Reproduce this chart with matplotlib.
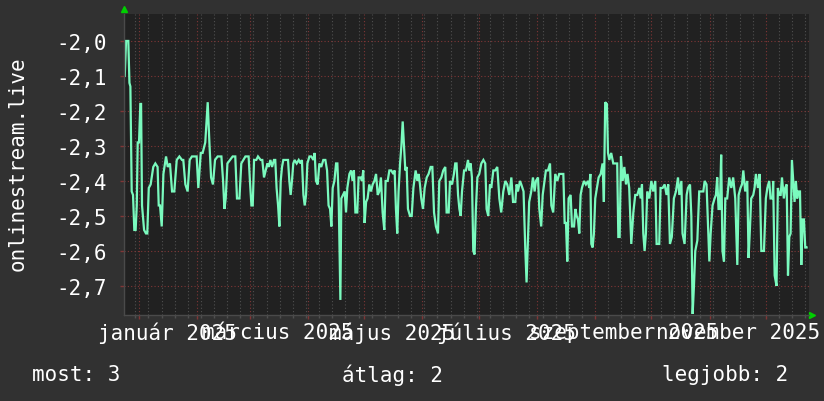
import matplotlib
matplotlib.use("Agg")
import matplotlib.pyplot as plt
import numpy as np
from matplotlib.ticker import FixedLocator, FuncFormatter

# day offsets from 2025-01-01 and the measured values
days = [
    -7.6, -6.9, -5.7, -5.1, -4.6, -3.9, -3.2, -2.5, -1.8, -1.2, -0.7, 0.0, 0.7, 1.1, 1.6, 2.7,
    3.7, 4.4, 5.2, 6.2, 7.6, 8.7, 9.9, 10.5, 11.2, 12.1, 13.0, 14.4, 15.3, 16.5, 17.6, 18.8,
    20.1, 21.5, 22.9, 23.6, 24.7, 25.9, 27.0, 28.2, 29.8, 30.7, 31.6, 32.9, 33.9, 35.3, 36.6,
    37.5, 38.4, 39.4, 40.5, 41.9,
    43.9, 44.8, 45.5, 46.2, 47.1, 48.5, 49.9, 51.3, 52.2, 53.5, 54.5, 55.6, 56.7, 58.4, 59.1,
    59.9, 60.6, 61.3, 62.5, 63.4, 64.8, 65.7, 66.6, 67.5, 68.4, 69.1, 70.0, 70.9, 71.9, 72.6,
    73.3, 74.1, 74.8, 75.5, 76.2, 76.9, 78.3, 79.4, 80.1, 80.8, 81.5, 82.2, 82.9, 84.0, 85.1,
    86.1, 86.8, 87.6, 88.3, 89.0, 89.7, 90.8, 91.8, 92.9, 93.6,
    94.3, 95.2, 96.1, 97.1, 98.2, 99.3, 100.2, 101.0, 101.8, 102.5, 103.2, 104.1, 105.0, 105.7,
    106.4, 107.3, 107.8, 108.7, 109.6, 110.3, 111.0, 112.1, 113.0, 113.8, 114.5, 115.3, 116.3,
    117.0, 118.1, 118.8, 119.5, 120.2, 121.0, 121.8, 122.7, 123.6, 124.5, 125.4, 126.3, 127.2,
    128.0, 128.9, 129.8, 130.7, 131.4, 132.5, 133.4, 134.4, 135.5, 136.2, 136.9, 137.6, 138.3,
    139.1, 139.8, 140.5, 141.2, 141.9, 142.6, 143.3, 144.4, 145.3, 146.2,
    147.4, 148.3, 149.0, 149.7, 150.4, 151.3, 152.2, 153.3, 154.3, 155.4, 156.3, 157.2, 158.2,
    159.3, 160.0, 161.1, 162.1, 163.2, 163.9, 165.0, 165.7, 166.8, 167.8, 168.5, 169.2, 170.0,
    170.7, 171.4, 172.1, 173.2, 174.2, 175.3, 176.0, 176.7, 177.4, 178.1, 178.8, 179.5, 180.3,
    181.3, 182.4, 183.5, 184.5, 185.2, 186.1, 187.0, 187.7, 188.8, 189.8, 190.9, 192.0, 193.0,
    194.1, 195.2, 196.2, 197.3, 198.4,
    199.3, 200.5, 201.2, 201.9, 203.0, 203.7, 204.9, 205.8, 206.5, 207.2, 207.9, 209.0, 209.9,
    210.8, 211.5, 212.6, 213.3, 214.3, 215.1, 216.1, 216.8, 217.9, 219.0, 219.7, 220.7, 221.8,
    222.9, 223.9, 225.0, 226.1, 226.8, 227.5, 228.2, 228.9, 230.0, 230.7, 231.8, 232.5, 233.2,
    233.9, 234.6, 235.3, 236.0, 237.1, 238.1, 239.2, 239.9, 240.5, 241.0, 241.7, 242.4, 243.1,
    244.0, 244.9, 246.0, 247.0, 247.7, 248.4, 249.3, 249.9, 250.6,
    251.6, 252.7, 253.8, 254.8, 255.4, 256.1, 256.8, 257.7, 258.6, 259.5, 260.3, 261.2, 262.3,
    263.4, 264.4, 265.5, 266.6, 267.3, 268.0, 268.7, 269.4, 270.1, 270.8, 271.9, 273.0, 274.0,
    275.1, 275.8, 277.2, 277.9, 279.0, 280.1, 281.1, 282.0, 282.9, 283.9, 285.0, 286.1, 287.2,
    287.9, 289.0, 289.6, 290.7, 291.8, 292.5, 293.6, 294.3, 295.0, 295.7, 296.4, 297.5, 298.5,
    299.6, 300.7, 301.4, 302.4,
    303.9, 304.6, 305.6, 306.7, 307.4, 308.1, 308.8, 309.5, 310.2, 310.9, 311.7, 312.4, 313.4,
    314.5, 315.6, 316.6, 317.7, 318.8, 319.5, 320.5, 321.3, 322.0, 323.0, 324.1, 324.8, 325.5,
    326.2, 327.3, 328.0, 328.7, 329.8, 330.7, 331.6, 333.0, 334.0, 334.8, 335.8, 336.5, 337.6,
    337.9, 338.7, 339.7, 340.4, 341.1, 341.9, 342.6, 343.6, 344.3, 345.1, 345.8, 346.5, 347.2,
    347.9, 348.6, 349.3, 350.0, 350.7, 351.4, 352.2, 352.9, 353.6, 354.3, 355.0, 355.7,
]
values = [
    -2.10, -2.00, -2.00, -2.12, -2.13, -2.43, -2.44, -2.54, -2.54, -2.47, -2.29, -2.29, -2.18, -2.18, -2.47, -2.54,
    -2.55, -2.55, -2.42, -2.41, -2.36, -2.35, -2.36, -2.47, -2.47, -2.53, -2.38, -2.33, -2.36, -2.35, -2.43, -2.43,
    -2.34, -2.33, -2.34, -2.34, -2.41, -2.43, -2.34, -2.33, -2.33, -2.33, -2.42, -2.32, -2.32, -2.29, -2.175,
    -2.29, -2.39, -2.41, -2.34, -2.33,
    -2.33, -2.40, -2.48, -2.45, -2.35, -2.34, -2.33, -2.33, -2.45, -2.45, -2.35, -2.34, -2.33, -2.33, -2.40,
    -2.47, -2.47, -2.34, -2.34, -2.33, -2.34, -2.34, -2.39, -2.37, -2.35, -2.36, -2.34, -2.36, -2.34, -2.34,
    -2.42, -2.47, -2.53, -2.40, -2.36, -2.34, -2.34, -2.34, -2.40, -2.44, -2.40, -2.35, -2.34, -2.35, -2.34,
    -2.35, -2.34, -2.44, -2.47, -2.44, -2.35, -2.33, -2.33, -2.34, -2.32,
    -2.40, -2.41, -2.35, -2.36, -2.34, -2.34, -2.37, -2.47, -2.48, -2.53, -2.42, -2.40, -2.35, -2.35,
    -2.45, -2.74, -2.45, -2.44, -2.43, -2.49, -2.42, -2.38, -2.37, -2.40, -2.37, -2.49, -2.49,
    -2.39, -2.39, -2.40, -2.37, -2.52, -2.46, -2.45, -2.41, -2.43, -2.41, -2.40, -2.38, -2.44,
    -2.43, -2.39, -2.49, -2.54, -2.40, -2.40, -2.37, -2.37, -2.38, -2.37, -2.48, -2.55, -2.43,
    -2.35, -2.30, -2.23, -2.30, -2.37, -2.36, -2.48, -2.50, -2.50, -2.42,
    -2.37, -2.40, -2.38, -2.41, -2.45, -2.48, -2.42, -2.39, -2.38, -2.36, -2.36, -2.49, -2.53,
    -2.55, -2.40, -2.39, -2.37, -2.36, -2.49, -2.49, -2.40, -2.41, -2.38, -2.35, -2.35, -2.44,
    -2.48, -2.50, -2.43, -2.37, -2.37, -2.34, -2.37, -2.35, -2.39, -2.60, -2.61, -2.48, -2.39,
    -2.38, -2.35, -2.34, -2.35, -2.48, -2.50, -2.41, -2.42, -2.37, -2.37, -2.36, -2.45, -2.49,
    -2.43, -2.40, -2.41, -2.44, -2.39,
    -2.46, -2.46, -2.41, -2.43, -2.40, -2.41, -2.43, -2.59, -2.69, -2.57, -2.46, -2.43, -2.39,
    -2.43, -2.40, -2.39, -2.48, -2.53, -2.44, -2.40, -2.37, -2.37, -2.35, -2.47, -2.49, -2.38,
    -2.40, -2.38, -2.38, -2.38, -2.52, -2.52, -2.63, -2.45, -2.44, -2.53, -2.53, -2.48, -2.50,
    -2.51, -2.55, -2.44, -2.42, -2.40, -2.41, -2.40, -2.42, -2.38, -2.58, -2.59, -2.55, -2.45,
    -2.42, -2.39, -2.38, -2.35, -2.46, -2.175, -2.18, -2.32, -2.34,
    -2.32, -2.35, -2.35, -2.35, -2.56, -2.56, -2.33, -2.40, -2.36, -2.41, -2.38, -2.42, -2.58,
    -2.49, -2.44, -2.44, -2.42, -2.45, -2.41, -2.55, -2.60, -2.55, -2.43, -2.45, -2.40, -2.43,
    -2.40, -2.58, -2.58, -2.42, -2.42, -2.41, -2.44, -2.41, -2.58, -2.56, -2.45, -2.43, -2.39,
    -2.44, -2.40, -2.55, -2.58, -2.44, -2.42, -2.41, -2.50, -2.78, -2.70, -2.60, -2.57, -2.43,
    -2.43, -2.43, -2.40, -2.41,
    -2.63, -2.55, -2.47, -2.45, -2.44, -2.39, -2.48, -2.48, -2.325, -2.60, -2.63, -2.45, -2.45,
    -2.39, -2.42, -2.39, -2.45, -2.64, -2.44, -2.42, -2.41, -2.37, -2.43, -2.40, -2.62, -2.54,
    -2.45, -2.44, -2.42, -2.38, -2.42, -2.38, -2.60, -2.60, -2.45, -2.42, -2.40, -2.45, -2.45,
    -2.40, -2.67, -2.70, -2.42, -2.44, -2.44, -2.39, -2.45, -2.42, -2.41, -2.67, -2.56, -2.55,
    -2.34, -2.40, -2.46, -2.40, -2.45, -2.43, -2.43, -2.64, -2.51, -2.51, -2.59, -2.59,
]

month_starts = [0, 31, 59, 90, 120, 151, 181, 212, 243, 273, 304, 334]
week_starts = list(range(-2, 357, 7))
label_days = [15, 74, 135, 196, 258, 319]
month_labels = ["január 2025", "március 2025", "május 2025", "július 2025",
                "szeptember 2025", "november 2025"]
yticks = [-2.7, -2.6, -2.5, -2.4, -2.3, -2.2, -2.1, -2.0]
legend_items = ["most: 3", "átlag: 2", "legjobb: 2"]

plt.rcParams["font.family"] = "DejaVu Sans Mono"
FS = 15
BG = "#313131"
PLOT_BG = "#212121"
LINE = "#7afabe"
MGRID = "#803636"
GRID = "#505050"

W, H = 824, 402
fig = plt.figure(figsize=(W / 100, H / 100), dpi=100, facecolor=BG)
ax = fig.add_axes([124 / W, (H - 316) / H, 685 / W, 301 / H], facecolor=PLOT_BG)

ax.plot(days, values, color=LINE, lw=1.6, solid_joinstyle="miter")

ax.set_xlim(-8, 357)
ax.set_ylim(-2.783, -1.923)

ax.xaxis.set_major_locator(FixedLocator(month_starts))
ax.xaxis.set_minor_locator(FixedLocator(week_starts))
ax.xaxis.set_major_formatter(FuncFormatter(lambda v, p: ""))
ax.yaxis.set_major_locator(FixedLocator(yticks))
ax.yaxis.set_major_formatter(FuncFormatter(lambda v, p: f"{v:.1f}".replace(".", ",")))

ax.grid(True, axis="x", which="minor", color=GRID, lw=0.8, ls=(0, (1, 2)))
ax.grid(True, axis="x", which="major", color=MGRID, lw=0.8, ls=(0, (1, 2)))
ax.grid(True, axis="y", which="major", color=MGRID, lw=0.8, ls=(0, (1, 2)))
ax.set_axisbelow(True)

ax.tick_params(axis="x", which="major", length=3, color=MGRID, width=1)
ax.tick_params(axis="x", which="minor", length=2, color=GRID, width=1)
ax.tick_params(axis="y", which="major", length=3, color=MGRID, width=1,
               labelcolor="white", labelsize=FS, pad=9)

for s in ["top", "right"]:
    ax.spines[s].set_visible(False)
for s in ["left", "bottom"]:
    ax.spines[s].set_color("#4a4a4a")
    ax.spines[s].set_linewidth(1)

for d, lab in zip(label_days, month_labels):
    ax.text(d, -0.056, lab, transform=ax.get_xaxis_transform(), ha="center", va="center",
            color="white", fontsize=FS)

# rrdtool style axis arrows
ax.plot([0], [1.016], marker="^", ms=5, color="#00d000", transform=ax.transAxes, clip_on=False)
ax.plot([1.004], [0], marker=">", ms=5, color="#00d000", transform=ax.transAxes, clip_on=False)

fig.text(18 / W, 1 - 164 / H, "onlinestream.live", rotation=90, ha="center", va="center",
         color="white", fontsize=FS)

for xpos, txt in zip([32, 342, 662], legend_items):
    fig.text(xpos / W, 1 - 375 / H, txt, ha="left", va="center", color="white", fontsize=FS)

fig.savefig("out.png", dpi=100, facecolor=BG)
